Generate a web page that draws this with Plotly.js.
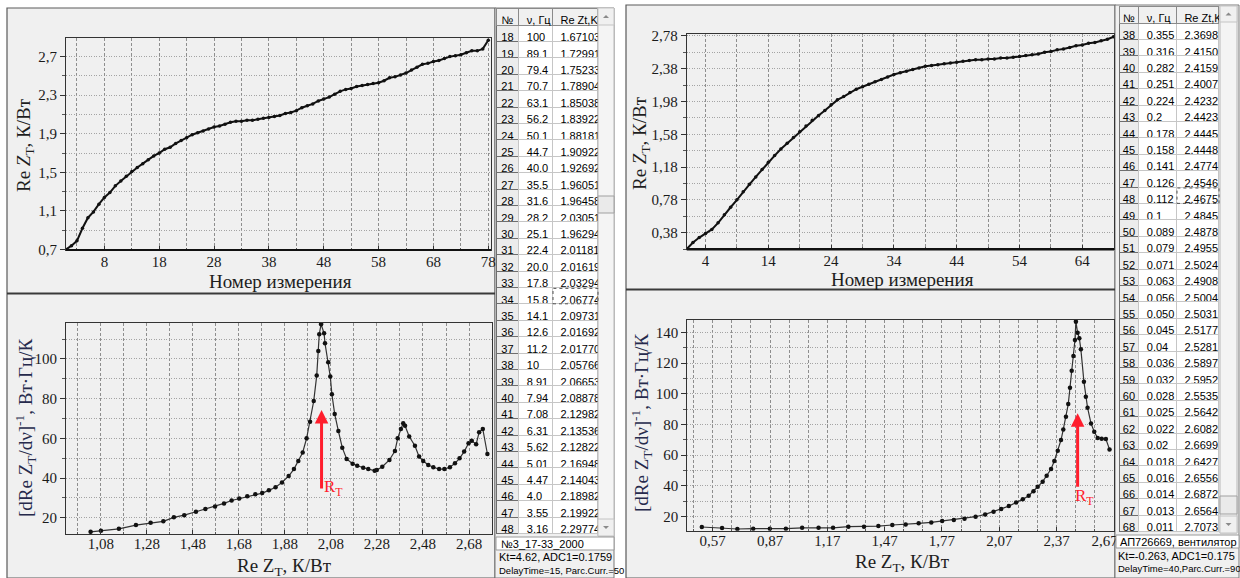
<!DOCTYPE html>
<html><head><meta charset="utf-8">
<script src="https://cdn.plot.ly/plotly-3.0.1.min.js"></script>
<style>html,body{margin:0;padding:0;background:#fff;}#chart{width:1240px;height:578px;}</style>
</head><body><div id="chart"></div>
<script>
// ---------- DATA ----------
// Left screenshot, top chart: Re Z_T vs measurement number
const leftReZ = [0.70,0.74,0.79,0.92,1.03,1.09,1.17,1.24,1.29,1.36,
  1.41,1.46,1.51,1.55,1.59,1.63,1.67,1.70,1.74,1.76,
  1.80,1.83,1.86,1.89,1.91,1.93,1.95,1.97,1.98,2.00,
  2.02,2.03,2.03,2.04,2.04,2.05,2.06,2.07,2.08,2.09,
  2.11,2.12,2.14,2.17,2.19,2.21,2.24,2.26,2.28,2.31,
  2.34,2.36,2.37,2.39,2.40,2.41,2.42,2.43,2.45,2.48,
  2.49,2.51,2.53,2.56,2.59,2.62,2.63,2.65,2.66,2.68,
  2.70,2.71,2.72,2.74,2.76,2.76,2.78,2.87];
const leftMeasNo = leftReZ.map((v,i)=>i+1);

// Left screenshot, bottom chart: [dReZ/dv]^-1 vs Re Z_T
const leftDerivX = [1.035,1.08,1.158,1.232,1.296,1.351,1.397,1.442,1.493,1.534,
  1.576,1.615,1.648,1.681,1.716,1.751,1.781,1.810,1.839,1.867,
  1.896,1.919,1.938,1.957,1.974,1.989,2.005,2.018,2.025,2.029,
  2.037,2.050,2.054,2.068,2.077,2.084,2.096,2.112,2.129,2.148,
  2.174,2.194,2.220,2.242,2.270,2.279,2.303,2.334,2.358,2.370,
  2.384,2.394,2.402,2.420,2.445,2.463,2.481,2.503,2.525,2.550,
  2.573,2.597,2.619,2.639,2.659,2.678,2.692,2.711,2.724,2.740,2.760];
const leftDerivY = [12.9,13.4,14.4,16.3,17.5,18.2,20.2,21.3,23.0,24.4,
  25.7,27.2,28.7,29.7,30.8,31.8,32.4,33.8,35.3,37.8,
  41.0,44.5,48.6,52.9,60.0,68.4,78.8,91.6,104.0,112.4,
  117.5,112.9,107.9,98.3,91.1,82.2,72.3,63.7,55.3,49.6,
  47.2,46.2,45.2,44.5,43.7,44.0,45.7,49.1,53.6,60.0,
  64.7,67.6,66.3,60.9,56.3,50.8,48.6,46.6,45.4,44.5,
  44.5,45.4,47.4,49.9,53.3,57.5,58.8,57.0,63.0,64.7,52.1];

// Right screenshot, top chart
const rightReZ = [0.18,0.26,0.32,0.37,0.42,0.50,0.60,0.69,0.78,0.88,
  0.97,1.06,1.15,1.24,1.32,1.40,1.47,1.54,1.61,1.68,
  1.75,1.81,1.87,1.94,2.00,2.04,2.09,2.13,2.16,2.19,
  2.22,2.25,2.28,2.31,2.33,2.35,2.37,2.39,2.41,2.42,
  2.43,2.44,2.45,2.46,2.47,2.48,2.49,2.49,2.50,2.50,
  2.51,2.51,2.52,2.53,2.54,2.55,2.56,2.58,2.59,2.61,
  2.62,2.64,2.66,2.67,2.69,2.70,2.72,2.74,2.77];
const rightMeasNo = rightReZ.map((v,i)=>i+1);

// Right screenshot, bottom chart
const rightDerivX = [0.513,0.619,0.699,0.782,0.869,0.953,1.038,1.124,1.20,1.28,
  1.362,1.437,1.51,1.58,1.648,1.714,1.771,1.832,1.888,1.946,
  1.996,2.04,2.08,2.12,2.158,2.193,2.224,2.249,2.271,2.297,
  2.318,2.341,2.358,2.376,2.393,2.405,2.419,2.431,2.44,2.449,
  2.458,2.466,2.471,2.48,2.489,2.497,2.513,2.523,2.532,2.55,
  2.567,2.585,2.606,2.628,2.647];
const rightDerivY = [13.3,12.6,12.0,12.2,12.2,12.2,12.8,12.8,12.8,13.5,
  13.5,13.9,14.6,15.0,15.7,16.3,17.2,17.8,18.7,20.0,
  21.5,23.3,25.0,26.9,29.3,31.3,33.7,36.5,39.5,42.8,
  46.7,51.0,56.2,62.9,69.9,76.8,85.1,93.3,103.9,115.0,
  124.6,135.0,146.9,139.7,136.1,128.9,107.9,98.1,90.9,80.7,
  75.3,71.2,70.8,70.5,63.8];
// tick labels of the right bottom x axis (last one kept inside the frame)
const rightDerivTickVals = [0.57,0.87,1.17,1.47,1.77,2.07,2.37,2.67];
const rightDerivTickText = ['0,57','0,87','1,17','1,47','1,77','2,07','2,37','2,67\u00a0\u00a0\u00a0\u00a0\u00a0'];

// Arrow markers (R_T)
const leftRT = {x:2.039, yTip:74.3, yTail:34.0, labelX:2.09, labelY:35};
const rightRT = {x:2.48, yTip:87.3, yTail:38.5, labelX:2.515, labelY:33};

// Tables
const leftTabNo = ['18','19','20','21','22','23','24','25','26','27','28','29','30','31','32','33','34','35','36','37','38','39','40','41','42','43','44','45','46','47','48'];
const leftTabFreq = ['100','89.1','79.4','70.7','63.1','56.2','50.1','44.7','40.0','35.5','31.6','28.2','25.1','22.4','20.0','17.8','15.8','14.1','12.6','11.2','10','8.91','7.94','7.08','6.31','5.62','5.01','4.47','4.0','3.55','3.16'];
const leftTabRe = ['1.6710389','1.7299134','1.7523376','1.7890476','1.8503896','1.8392207','1.8818181','1.9092207','1.9269264','1.9605194','1.9645887','2.0305194','1.9629437','2.0118181','2.0161904','2.0329437','2.0677489','2.0973160','2.0169264','2.0177056','2.0576623','2.0665367','2.0887878','2.1298268','2.1353679','2.1282251','2.1694805','2.1404329','2.1898268','2.1992207','2.2977489'];
const rightTabNo = ['38','39','40','41','42','43','44','45','46','47','48','49','50','51','52','53','54','55','56','57','58','59','60','61','62','63','64','65','66','67','68'];
const rightTabFreq = ['0.355','0.316','0.282','0.251','0.224','0.2','0.178','0.158','0.141','0.126','0.112','0.1','0.089','0.079','0.071','0.063','0.056','0.050','0.045','0.04','0.036','0.032','0.028','0.025','0.022','0.02','0.018','0.016','0.014','0.013','0.011'];
const rightTabRe = ['2.3698','2.4150','2.4159','2.4007','2.4232','2.4423','2.4445','2.4448','2.4774','2.4546','2.4675','2.4845','2.4878','2.4955','2.5024','2.4908','2.5004','2.5031','2.5177','2.5281','2.5897','2.5952','2.5535','2.5642','2.6082','2.6699','2.6427','2.6556','2.6872','2.6564','2.7073'];
const tabHeader = ['№','ν,\u00a0Гц','Re\u00a0Zt,K/Вт'];
const leftInfo = ['№3_17-33_2000','Kt=4.62, ADC1=0.1759','DelayTime=15, Parc.Curr.=50'];
const rightInfo = ['АП726669, вентилятор','Kt=-0.263, ADC1=0.175','DelayTime=40,Parc.Curr.=90'];

// ---------- LAYOUT HELPERS ----------
const W=1240, H=578;
const px = v => v/W, py = v => 1 - v/H;
const SERIF = 'Liberation Serif, Times New Roman, serif';
const SANS = 'Liberation Sans, Arial, sans-serif';

function axis(domPx, range, tick0, dtick, mdtick, fmt, anchor, isY, standoff){
  const gc = isY ? '#a4a4a4' : '#8e8e8e';
  const gd = isY ? '1px,1.5px' : '3px,2px';
  const a = {
    domain: isY ? [py(domPx[1]), py(domPx[0])] : [px(domPx[0]), px(domPx[1])],
    range, tickmode:'linear', tick0, dtick, tickformat: fmt,
    showgrid:true, gridcolor:gc, griddash:gd, gridwidth:1,
    minor:{tick0, dtick:mdtick, showgrid:true, gridcolor:gc, griddash:gd, gridwidth:1,
           ticks: isY?'outside':'inside', ticklen:isY?3:2, tickcolor:'#555', tickwidth:1},
    ticks: isY?'outside':'inside', ticklen:isY?5:4, tickcolor:'#333', tickwidth:1,
    showline:true, linecolor:'#333', linewidth:1, mirror:true,
    zeroline:false, anchor, fixedrange:true, automargin:false,
    tickfont:{family:SERIF, size:15, color:'#1a1a1a'}
  };
  if (standoff !== undefined) a.ticklabelstandoff = standoff;
  return a;
}

const traces = [
  {type:'scatter', mode:'lines+markers', x:leftMeasNo, y:leftReZ, xaxis:'x', yaxis:'y',
   line:{color:'#111', width:2}, marker:{size:3.5, color:'#111'}, hoverinfo:'skip'},
  {type:'scatter', mode:'lines+markers', x:leftDerivX, y:leftDerivY, xaxis:'x2', yaxis:'y2',
   line:{color:'#333', width:1.2}, marker:{size:4.5, color:'#111'}, hoverinfo:'skip'},
  {type:'scatter', mode:'lines+markers', x:rightMeasNo, y:rightReZ, xaxis:'x3', yaxis:'y3',
   line:{color:'#111', width:2}, marker:{size:3.5, color:'#111'}, hoverinfo:'skip'},
  {type:'scatter', mode:'lines+markers', x:rightDerivX, y:rightDerivY, xaxis:'x4', yaxis:'y4',
   line:{color:'#333', width:1.2}, marker:{size:4.5, color:'#111'}, hoverinfo:'skip'}
];

// Tables
const ROWH = 16.4, HEADH = 17;
function table(domX, topPx, no, freq, re, colw){
  const n = no.length;
  const bottom = topPx + HEADH + n*ROWH + 3;
  return {
    type:'table', domain:{x:[px(domX[0]), px(domX[1])], y:[py(bottom), py(topPx)]},
    columnwidth: colw,
    header:{values: tabHeader.map(t=>[t]), height:HEADH, align:['center','left','left'],
      fill:{color:'#f0f0f0'}, line:{color:'#8a8a8a', width:1},
      font:{family:SANS, size:11, color:'#000'}},
    cells:{values:[no, freq, re], height:ROWH, align:['center','left','left'],
      fill:{color:['#ececec','#ffffff','#ffffff']},
      line:{color:['#6e6e6e','#c6c6c6','#c6c6c6'], width:1},
      font:{family:SANS, size:11, color:'#000'}}
  };
}
const LT_TOP = 8, RT_TOP = 6;
traces.push(table([496,598], LT_TOP, leftTabNo, leftTabFreq, leftTabRe, [23,34,45]));
traces.push(table([1119,1219], RT_TOP, rightTabNo, rightTabFreq, rightTabRe, [20,38,42]));

// ---------- SHAPES ----------
const shapes = [];
function rect(x0,y0,x1,y1,fill,line,lw,layer,dash){
  shapes.push({type:'rect', xref:'paper', yref:'paper', x0:px(x0), x1:px(x1), y0:py(y1), y1:py(y0),
    fillcolor:fill, line:{color:line, width:lw===undefined?1:lw, dash:dash||'solid'}, layer:layer||'below'});
}
function hline(x0,x1,y,color,w,layer){
  shapes.push({type:'line', xref:'paper', yref:'paper', x0:px(x0), x1:px(x1), y0:py(y), y1:py(y),
    line:{color, width:w}, layer:layer||'above'});
}
function tri(cx,cy,up){
  const s=3;
  const p = up ? `M${px(cx-s)},${py(cy+1.5)} L${px(cx+s)},${py(cy+1.5)} L${px(cx)},${py(cy-1.5)} Z`
               : `M${px(cx-s)},${py(cy-1.5)} L${px(cx+s)},${py(cy-1.5)} L${px(cx)},${py(cy+1.5)} Z`;
  shapes.push({type:'path', xref:'paper', yref:'paper', path:p, fillcolor:'#8a8a8a', line:{width:0}, layer:'above'});
}
// panels
rect(7,8,495,578,'#f0f0f0','#5a5a5a',1.2);
rect(626,5,1115,578,'#f0f0f0','#5a5a5a',1.2);
rect(495,8,614,578,'#f0f0f0','#7a7a7a',1);
rect(1115,5,1239,578,'#f0f0f0','#7a7a7a',1);
hline(7,495,293.5,'#3a3a3a',2);
hline(626,1115,289.5,'#3a3a3a',2);
// thick bottom axis lines of the top charts
hline(66,491,250,'#111',2.2);
hline(686.7,1114,249.3,'#111',2.6);
// scrollbars
rect(598,8,614,536,'#f4f4f4','#b8b8b8',1,'above');
rect(598,8,614,25,'#f0f0f0','#c4c4c4',1,'above'); tri(606,16.5,true);
rect(598,196,614,213,'#eaeaea','#a0a0a0',1,'above');
rect(598,519,614,536,'#f0f0f0','#c4c4c4',1,'above'); tri(606,527.5,false);
rect(1220,6,1237,533,'#f4f4f4','#b8b8b8',1,'above');
rect(1220,6,1237,22,'#f0f0f0','#c4c4c4',1,'above'); tri(1228.5,14,true);
rect(1220,496,1237,514,'#eaeaea','#a0a0a0',1,'above');
rect(1220,516,1237,533,'#f0f0f0','#c4c4c4',1,'above'); tri(1228.5,524.5,false);
// focus rectangles
rect(553,LT_TOP+HEADH+16*ROWH+1,598,LT_TOP+HEADH+17*ROWH,'rgba(0,0,0,0)','#555',1,'above','dot');
rect(1177,RT_TOP+HEADH+10*ROWH+1,1219,RT_TOP+HEADH+11*ROWH,'rgba(0,0,0,0)','#555',1,'above','dot');
// info text boxes
rect(496,537,614,550,'#ffffff','#9a9a9a',1,'above');
rect(1116,535,1239,548,'#ffffff','#9a9a9a',1,'above');

// ---------- ANNOTATIONS ----------
const annotations = [];
function ann(text,x,y,opt){
  annotations.push(Object.assign({xref:'paper', yref:'paper', x:px(x), y:py(y), text, showarrow:false,
    xanchor:'center', yanchor:'middle', font:{family:SERIF, size:19, color:'#1e1e1e'}}, opt||{}));
}
ann('Re <i>Z</i><sub>T</sub>, К/Вт', 25, 145, {textangle:-90});
ann('Номер измерения', 280, 282);
ann('[dRe Z<sub>T</sub>/dν]<sup>-1</sup>, Вт·Гц/К', 25, 428, {textangle:-90, font:{family:SERIF,size:19,color:'#262a4c'}});
ann('Re Z<sub>T</sub>, К/Вт', 284, 567);
ann('Re <i>Z</i><sub>T</sub>, К/Вт', 641, 143, {textangle:-90});
ann('Номер измерения', 902, 279);
ann('[dRe Z<sub>T</sub>/dν]<sup>-1</sup>, Вт·Гц/К', 641, 423, {textangle:-90, font:{family:SERIF,size:19,color:'#262a4c'}});
ann('Re Z<sub>T</sub>, К/Вт', 902, 563);
// info texts
const infoFont = {family:SANS, size:11, color:'#000'};
ann(leftInfo[0], 499, 543.5, {xanchor:'left', font:infoFont});
ann(leftInfo[1], 497, 557, {xanchor:'left', font:infoFont});
ann(leftInfo[2], 497, 570, {xanchor:'left', font:{family:SANS, size:9.5, color:'#000'}});
ann(rightInfo[0], 1118, 541.5, {xanchor:'left', font:infoFont});
ann(rightInfo[1], 1116, 556, {xanchor:'left', font:infoFont});
ann(rightInfo[2], 1116, 568, {xanchor:'left', font:{family:SANS, size:9.5, color:'#000'}});
// red arrows
const RED = '#ff1e2d';
[[leftRT,'x2','y2'],[rightRT,'x4','y4']].forEach(([r,xa,ya])=>{
  annotations.push({xref:xa, yref:ya, x:r.x, y:r.yTip, ax:r.x, ay:r.yTail, axref:xa, ayref:ya,
    text:'', showarrow:true, arrowhead:2, arrowsize:0.9, arrowwidth:3, arrowcolor:RED, standoff:0, startstandoff:0});
  annotations.push({xref:xa, yref:ya, x:r.labelX, y:r.labelY, text:'R<sub>T</sub>', showarrow:false,
    xanchor:'center', yanchor:'middle', font:{family:SERIF, size:17, color:RED}});
});

const xaxis4 = axis([687.3,1114.3],[0.437,2.672],0.57, 0.3, 0.1, '.2f', 'y4', false, -4);
xaxis4.tickmode = 'array'; xaxis4.tickvals = rightDerivTickVals; xaxis4.ticktext = rightDerivTickText;

const layout = {
  width:W, height:H, margin:{l:0,r:0,t:0,b:0},
  paper_bgcolor:'#ffffff', plot_bgcolor:'rgba(0,0,0,0)',
  showlegend:false, separators:', ',
  xaxis:  axis([66,491],      [1,78.5],     8,    10,  5,   'd',   'y',  false, -2),
  yaxis:  axis([38,250],      [0.695,2.893],0.7,  0.4, 0.2, '.1f', 'x',  true),
  xaxis2: axis([66,492],      [0.928,2.78], 1.08, 0.2, 0.1, '.2f', 'y2', false, -4),
  yaxis2: axis([323,534],     [11.8,118.1], 20,   20,  10,  'd',   'x2', true),
  xaxis3: axis([686.7,1114],  [1,69.05],    4,    10,  5,   'd',   'y3', false, -2),
  yaxis3: axis([34.3,249.3],  [0.177,2.80], 0.38, 0.4, 0.2, '.2f', 'x3', true),
  xaxis4,
  yaxis4: axis([320,530.7],   [10.9,148],   20,   20,  10,  'd',   'x4', true),
  shapes, annotations
};
Plotly.newPlot('chart', traces, layout, {staticPlot:true, displayModeBar:false});
</script>
</body></html>
